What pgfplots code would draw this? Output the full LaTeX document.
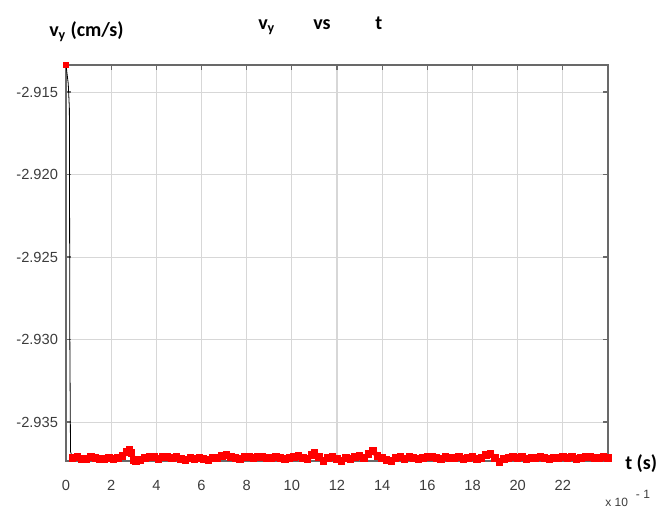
\documentclass[border=0pt]{standalone}
\usepackage{fontspec}
\setmainfont{Liberation Sans}
\newfontfamily\lab{Carlito}
\usepackage{pgfplots}
\usepackage{pgfplotstable}
\pgfplotsset{compat=1.18}
\definecolor{gridc}{RGB}{215,215,215}
\definecolor{axc}{RGB}{105,105,105}
\definecolor{tickc}{RGB}{60,60,60}

\pgfplotstableread{
t v
0.3 -2.93718
0.5 -2.93712
0.7 -2.93724
0.9 -2.93724
1.1 -2.93712
1.3 -2.93718
1.5 -2.93724
1.7 -2.93724
1.9 -2.93718
2.1 -2.93724
2.3 -2.93718
2.5 -2.93706
2.7 -2.93682
2.8 -2.93670
2.9 -2.93688
3.0 -2.93730
3.1 -2.93736
3.3 -2.93730
3.5 -2.93718
3.7 -2.93712
3.9 -2.93712
4.1 -2.93724
4.3 -2.93712
4.5 -2.93712
4.7 -2.93718
4.9 -2.93712
5.1 -2.93724
5.3 -2.93730
5.5 -2.93718
5.7 -2.93724
5.9 -2.93718
6.1 -2.93724
6.3 -2.93730
6.5 -2.93718
6.7 -2.93718
6.9 -2.93706
7.1 -2.93700
7.3 -2.93712
7.5 -2.93718
7.7 -2.93724
7.9 -2.93712
8.1 -2.93712
8.3 -2.93718
8.5 -2.93712
8.7 -2.93712
8.9 -2.93718
9.1 -2.93718
9.3 -2.93712
9.5 -2.93718
9.7 -2.93724
9.9 -2.93718
10.1 -2.93712
10.3 -2.93706
10.5 -2.93718
10.7 -2.93724
10.9 -2.93700
11.0 -2.93688
11.2 -2.93712
11.4 -2.93736
11.6 -2.93718
11.8 -2.93712
12.0 -2.93724
12.2 -2.93736
12.4 -2.93718
12.6 -2.93724
12.8 -2.93712
13.0 -2.93706
13.2 -2.93718
13.4 -2.93694
13.6 -2.93676
13.8 -2.93706
14.0 -2.93718
14.2 -2.93730
14.4 -2.93736
14.6 -2.93718
14.8 -2.93712
15.0 -2.93724
15.2 -2.93712
15.4 -2.93718
15.6 -2.93724
15.8 -2.93718
16.0 -2.93712
16.2 -2.93712
16.4 -2.93718
16.6 -2.93724
16.8 -2.93712
17.0 -2.93718
17.2 -2.93718
17.4 -2.93712
17.6 -2.93724
17.8 -2.93718
18.0 -2.93712
18.2 -2.93724
18.4 -2.93718
18.6 -2.93700
18.8 -2.93694
19.0 -2.93718
19.2 -2.93742
19.4 -2.93724
19.6 -2.93718
19.8 -2.93712
20.0 -2.93718
20.2 -2.93712
20.4 -2.93724
20.6 -2.93718
20.8 -2.93718
21.0 -2.93712
21.2 -2.93718
21.4 -2.93724
21.6 -2.93718
21.8 -2.93718
22.0 -2.93712
22.2 -2.93718
22.4 -2.93712
22.6 -2.93724
22.8 -2.93718
23.0 -2.93712
23.2 -2.93712
23.4 -2.93718
23.6 -2.93718
23.8 -2.93712
24.0 -2.93718
}\flat

\pgfplotstableread{
t v
0 -2.91336
0.10 -2.91450
0.15 -2.91600
0.17 -2.93000
0.20 -2.93680
0.30 -2.93718
}\drop

\begin{document}
\begin{tikzpicture}[x=1pt,y=1pt]
\begin{axis}[
  at={(0,0)}, anchor=south west,
  scale only axis, width=406.5pt, height=297pt,
  xmin=0, xmax=24, ymin=-2.93736, ymax=-2.91336,
  clip=false,
  xtick={0,2,4,6,8,10,12,14,16,18,20,22},
  xticklabels={0,2,4,6,8,10,12,14,16,18,20,22},
  ytick={-2.935,-2.93,-2.925,-2.92,-2.915},
  yticklabels={-2.935,-2.930,-2.925,-2.920,-2.915},
  xtick pos=both, ytick pos=both,
  tick align=inside, major tick length=4pt,
  grid=major, grid style={gridc, line width=0.8pt},
  axis line style={axc, line width=0.9pt},
  tick style={axc, line width=0.9pt},
  ticklabel style={font=\fontsize{11}{12}\selectfont, text=tickc},
  yticklabel style={xshift=-2.5pt},
  xticklabel style={yshift=-11pt},
]
\addplot[red, line width=3.8pt, mark=square*, mark size=2.4pt, mark options={solid, fill=red, draw=red, line width=0pt}] table[x=t,y=v] {\flat};
\addplot[black, line width=0.6pt, mark=none] table[x=t,y=v] {\drop};
\addplot[black, line width=0.6pt, mark=none] table[x=t,y=v] {\flat};
\addplot[only marks, mark=square*, mark size=2pt, red] coordinates {(0,-2.91336)};
\end{axis}
\node[anchor=base west, inner sep=0] at (-12.75,318) {\lab\bfseries\fontsize{15}{18}\selectfont v\textsubscript{y} (cm/s)};
\node[anchor=base west, inner sep=0] at (144,323.25) {\lab\bfseries\fontsize{15}{18}\selectfont v\textsubscript{y}};
\node[anchor=base west, inner sep=0] at (185.25,323.25) {\lab\bfseries\fontsize{15}{18}\selectfont vs};
\node[anchor=base west, inner sep=0] at (231.75,323.25) {\lab\bfseries\fontsize{15}{18}\selectfont t};
\node[anchor=base west, inner sep=0] at (419.25,-6) {\lab\bfseries\fontsize{15}{18}\selectfont t (s)};
\node[anchor=base west, inner sep=0, text=tickc] at (404.25,-34.2) {\fontsize{9}{10}\selectfont x 10\hspace{6pt}\raisebox{6pt}{- 1}};
\pgfresetboundingbox
\path (-49.5pt,-35.25pt) rectangle (453pt,345.75pt);
\end{tikzpicture}
\end{document}
